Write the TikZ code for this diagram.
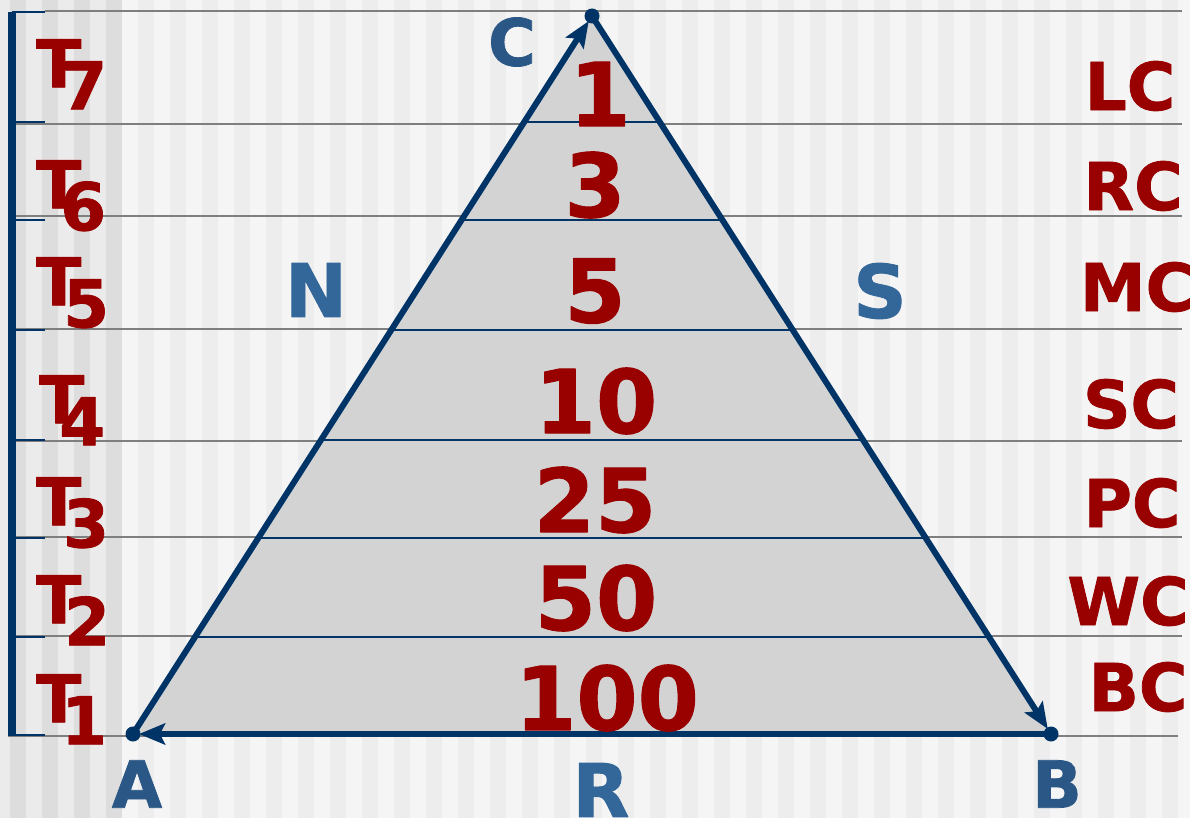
\documentclass[tikz,border=0pt]{standalone}
\usepackage{fontspec}
\setmainfont{DejaVu Sans}[BoldFeatures={FakeBold=1.2}]
\usepackage{tikz}
\usetikzlibrary{arrows.meta}
\definecolor{navy}{HTML}{003366}
\definecolor{dred}{HTML}{990000}
\definecolor{vblue}{HTML}{2B5786}
\definecolor{sblue}{HTML}{336699}
\definecolor{trigray}{HTML}{D3D3D3}
\definecolor{rulegray}{HTML}{7F7F7F}
\definecolor{bgleft}{HTML}{EBEBEB}
\definecolor{bgleftdk}{HTML}{DDDDDD}
\definecolor{bgright}{HTML}{F5F5F5}
\definecolor{bgrightdk}{HTML}{EDEDED}
\tikzset{numlbl/.style={text=dred,inner sep=0,font=\fontsize{88}{88}\selectfont\bfseries},
  tierlbl/.style={text=dred,inner sep=0,anchor=north west,font=\fontsize{66}{66}\selectfont\bfseries},
  classlbl/.style={text=dred,inner sep=0,font=\fontsize{66}{66}\selectfont\bfseries},
  vtxlbl/.style={text=vblue,inner sep=0,font=\fontsize{65}{65}\selectfont\bfseries},
  sidelbl/.style={text=sblue,inner sep=0,font=\fontsize{74}{74}\selectfont\bfseries},
  rule/.style={rulegray,line width=2pt},
  edge/.style={navy,line width=6pt,-{Stealth[length=26pt,width=21pt,inset=5pt]},shorten >=6pt}}
\newcommand{\tier}[2]{T\kern#2\raisebox{-22pt}{#1}}

\begin{document}
\begin{tikzpicture}[x=1pt,y=-1pt,line join=round]
\useasboundingbox (0,0) rectangle (1190,818);
% --- background stripes
\fill[bgleft] (0,0) rectangle (121,818); \fill[bgright] (121,0) rectangle (1190,818);
\foreach \x in {10,42,74,106} \fill[bgleftdk] (\x,0) rectangle ++(16,818);
\foreach \x in {138,170,...,1178} \fill[bgrightdk] (\x,0) rectangle ++(16,818);
% --- level rules and scale bar
\draw[rule] (45,11) -- (1182,11);
\foreach \y in {124,216,329,441,537,636} \draw[rule] (15,\y) -- (1182,\y);
\draw[rule] (8,736) -- (1178,736);
\draw[navy,line width=7.5pt] (12,12) -- (12,736);
\foreach \y in {12,122,220,330,440,538,637,735} \draw[navy,line width=1.8pt] (12,\y) -- (45,\y);
% --- triangle
\coordinate (A) at (133,734); \coordinate (B) at (1051,734); \coordinate (C) at (592,16);
\fill[trigray] (A) -- (B) -- (C) -- cycle;
\begin{scope}
\clip (A) -- (B) -- (C) -- cycle;
\foreach \y in {122,220,330,440,538,637} \draw[navy,line width=1.8pt] (0,\y) -- (1190,\y);
\end{scope}
\draw[edge] (A) -- (C); \draw[edge] (C) -- (B); \draw[edge] (B) -- (A);
\foreach \p in {A,B,C} \fill[navy] (\p) circle (7.5);
% --- counts per level
\node[numlbl] (n1) at (600,94) {1};
\node[numlbl] (n3) at (595,185) {3};
\node[numlbl] (n5) at (595,291) {5};
\node[numlbl] (n10) at (596,401) {10};
\node[numlbl] (n25) at (595,500) {25};
\node[numlbl] (n50) at (596,598) {50};
\node[numlbl] (n100) at (607,698) {100};
% --- tiers, left
\node[tierlbl] (t7) at (36,39) {\tier{7}{-20pt}};
\node[tierlbl] (t6) at (36,160) {\tier{6}{-21pt}};
\node[tierlbl] (t5) at (36,257) {\tier{5}{-18pt}};
\node[tierlbl] (t4) at (39,375) {\tier{4}{-25pt}};
\node[tierlbl] (t3) at (36,477) {\tier{3}{-18pt}};
\node[tierlbl] (t2) at (36,575) {\tier{2}{-17pt}};
\node[tierlbl] (t1) at (36,674) {\tier{1}{-20pt}};
% --- classes, right
\node[classlbl] (lc) at (1130,86) {LC};
\node[classlbl] (rc) at (1133,186) {RC};
\node[classlbl] (mc) at (1137,287) {MC};
\node[classlbl] (sc) at (1131,404) {SC};
\node[classlbl] (pc) at (1132,503) {PC};
\node[classlbl] (wc) at (1128,601) {WC};
\node[classlbl] (bc) at (1138,687) {BC};
% --- vertices and sides
\node[vtxlbl] (lA) at (137,784) {A};
\node[vtxlbl] (lB) at (1057,784) {B};
\node[vtxlbl] (lC) at (512,42) {C};
\node[sidelbl] (sN) at (316,290) {N};
\node[sidelbl] (sS) at (880,291) {S};
\node[sidelbl] (sR) at (601,790) {R};
\end{tikzpicture}
\end{document}
